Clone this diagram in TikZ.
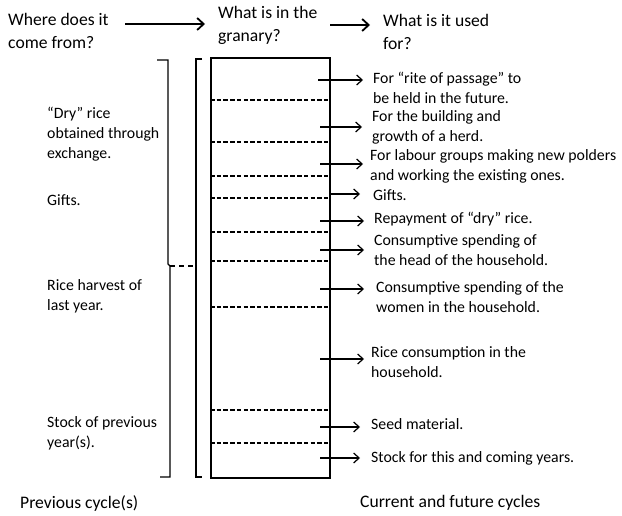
\documentclass[tikz,border=0pt]{standalone}
\usepackage{fontspec}
\setmainfont{Carlito}
\usetikzlibrary{arrows.meta}
\begin{document}
\begin{tikzpicture}[x=1pt,y=-1pt,
  body/.style={anchor=west,inner sep=0pt,align=left,font=\fontsize{15.8}{19.8}\selectfont},
  head/.style={anchor=west,inner sep=0pt,align=left,font=\fontsize{17.6}{23}\selectfont},
  dsh/.style={line width=2pt,dash pattern=on 4.5pt off 2.2pt},
  sarr/.style={line width=1.1pt,-{Straight Barb[length=5.5pt,width=10pt,line width=1.2pt]}},
  harr/.style={line width=1.7pt,-{Straight Barb[length=6.5pt,width=12pt,line width=1.8pt]}},
  brk/.style={line width=1.1pt}]
\useasboundingbox (0,0) rectangle (622,516);
% headers
\node[head] (h1) at (8,31) {Where does it\\come from?};
\node[head] (h2) at (218,25) {What is in the\\granary?};
\node[head] (h3) at (383,32) {What is it used\\for?};
\coordinate (h1e) at (125,24);
\coordinate (h2s) at (205,24);
\coordinate (h2e) at (330,25);
\coordinate (h3s) at (370,25);
\draw[harr] (h1e) -- (h2s);
\draw[harr] (h2e) -- (h3s);
% granary box
\node[draw,line width=1.6pt,minimum width=119pt,minimum height=420pt,inner sep=0pt,anchor=north west] (box) at (210,57) {};
\foreach \y in {100,142,176,198,232,261,307,410,443}
  \draw[dsh] (210,\y) -- (329,\y);
% brackets
\coordinate (b1t) at (157,60);
\coordinate (b1m) at (168,264);
\coordinate (b1n) at (170,268);
\coordinate (b1b) at (160,477);
\coordinate (b2t) at (202,59);
\coordinate (b2b) at (202,477);
\draw[brk] (b1t) -- (168,60) -- (b1m) -- (170,266) -- (b1n) -- (170,477) -- (b1b);
\draw[brk,line width=1.5pt] (b2t) -- (196,59) -- (196,477) -- (b2b);
\coordinate (b2m) at (196,266);
\draw[line width=1.3pt,dash pattern=on 5pt off 4pt] (170,266) -- (b2m);
% left texts
\node[body] (l1) at (47,134) {“Dry” rice\\obtained through\\exchange.};
\node[body] (l2) at (47,200) {Gifts.};
\node[body] (l3) at (47,296) {Rice harvest of\\last year.};
\node[body] (l4) at (47,433) {Stock of previous\\year(s).};
% right texts
\node[body] (r1) at (373,88) {For “rite of passage” to\\be held in the future.};
\node[body] (r2) at (372,127) {For the building and\\growth of a herd.};
\node[body] (r3) at (370,166) {For labour groups making new polders\\and working the existing ones.};
\node[body] (r4) at (373,195) {Gifts.};
\node[body] (r5) at (374,219) {Repayment of “dry” rice.};
\node[body] (r6) at (374,250) {Consumptive spending of\\the head of the household.};
\node[body] (r7) at (376,297) {Consumptive spending of the\\women in the household.};
\node[body] (r8) at (371,362) {Rice consumption in the\\household.};
\node[body] (r9) at (371,424) {Seed material.};
\node[body] (r10) at (371,458) {Stock for this and coming years.};
% right arrows
\foreach \i/\y/\xs/\xe in {1/80/318/363,2/127/320/362,3/164/320/363,4/194/329/360,5/221/320/364,6/250/320/364,7/289/320/364,8/359/320/364,9/427/320/360,10/458/320/360}{
  \coordinate (as\i) at (\xs,\y);
  \coordinate (ae\i) at (\xe,\y);
  \draw[sarr] (as\i) -- (ae\i);
}
% bottom labels
\node[head] (p) at (20,503) {Previous cycle(s)};
\node[head] (c) at (360,503) {Current and future cycles};
\end{tikzpicture}
\end{document}
